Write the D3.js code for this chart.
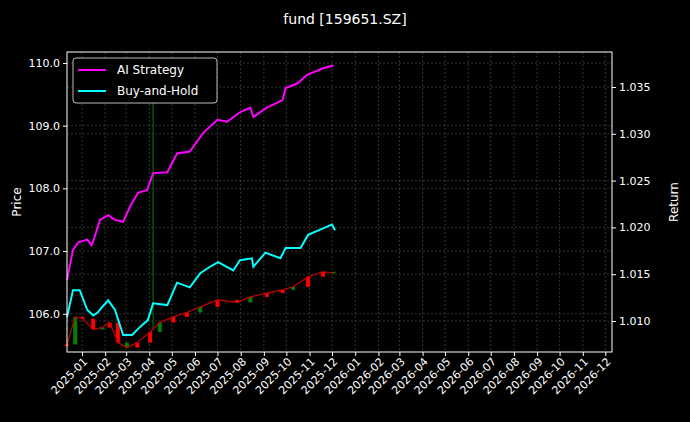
<!DOCTYPE html>
<html><head><meta charset="utf-8">
<script src="https://cdn.jsdelivr.net/npm/d3@7"></script>
<style>
body{margin:0;background:#000;}
text{font-family:"DejaVu Sans",sans-serif;fill:#fff;}
</style></head><body>
<svg id="chart" width="690" height="422"></svg>
<script>
// AI Strategy return (right axis)
const aiDates = ['2024-12-12','2024-12-20','2024-12-27','2025-01-08','2025-01-14','2025-01-18','2025-01-25','2025-02-05','2025-02-14','2025-02-25','2025-03-06','2025-03-17','2025-03-29','2025-04-06','2025-04-25','2025-05-08','2025-05-25','2025-06-12','2025-07-01','2025-07-14','2025-07-31','2025-08-14','2025-08-18','2025-09-05','2025-09-26','2025-09-30','2025-10-16','2025-10-29','2025-11-19','2025-12-03'];
const aiValues = [1.0144,1.0176,1.0184,1.0187,1.0181,1.0190,1.0208,1.0213,1.0208,1.0206,1.0222,1.0237,1.0240,1.0258,1.0259,1.0279,1.0281,1.0301,1.0315,1.0313,1.0323,1.0328,1.0318,1.0328,1.0336,1.0349,1.0354,1.0363,1.0370,1.0373];
// Buy-and-Hold return (right axis)
const bhDates = ['2024-12-12','2024-12-20','2024-12-29','2025-01-08','2025-01-16','2025-01-22','2025-01-28','2025-02-05','2025-02-14','2025-02-25','2025-03-09','2025-03-20','2025-03-30','2025-04-06','2025-04-25','2025-05-08','2025-05-25','2025-06-08','2025-06-21','2025-07-02','2025-07-22','2025-07-31','2025-08-16','2025-08-18','2025-09-03','2025-09-23','2025-09-30','2025-10-20','2025-10-30','2025-11-19','2025-12-01','2025-12-05'];
const bhValues = [1.0104,1.0133,1.0133,1.0112,1.0106,1.0109,1.0115,1.0122,1.0112,1.0085,1.0085,1.0094,1.0101,1.0119,1.0117,1.0141,1.0136,1.0151,1.0158,1.0163,1.0154,1.0165,1.0167,1.0158,1.0173,1.0167,1.0178,1.0178,1.0192,1.0199,1.0203,1.0197];
// price closes (left axis)
const priceDates = ['2024-12-12','2024-12-23','2025-01-02','2025-01-16','2025-01-28','2025-02-07','2025-02-18','2025-03-02','2025-03-16','2025-04-02','2025-04-15','2025-05-03','2025-05-21','2025-06-08','2025-07-01','2025-07-27','2025-08-14','2025-09-05','2025-09-26','2025-10-10','2025-10-30','2025-11-19','2025-12-03'];
const priceClose = [105.51,105.95,105.92,105.75,105.78,105.86,105.54,105.46,105.54,105.71,105.86,105.95,106.02,106.11,106.22,106.18,106.27,106.33,106.38,106.43,106.59,106.67,106.65];
const spikeDate = '2025-04-06', spikeHigh = 109.4, spikeLow = 105.75;
const leftTicks = [106,107,108,109,110];
const rightTicks = [1.010,1.015,1.020,1.025,1.030,1.035];

const svg = d3.select('#chart');
const m = {top: 52, right: 78, bottom: 70, left: 67};
const W = 690 - m.left - m.right, H = 422 - m.top - m.bottom;
const p = d3.timeParse('%Y-%m-%d');
const x = d3.scaleTime().domain([p('2024-12-12'), p('2026-12-10')]).range([0, W]);
const yL = d3.scaleLinear().domain([105.39, 110.175]).range([H, 0]);
const yR = d3.scaleLinear().domain([1.00669, 1.03874]).range([H, 0]);

svg.append('text').attr('x', 345).attr('y', 24).attr('text-anchor', 'middle').style('font-size', '14px').text('fund [159651.SZ]');
const g = svg.append('g').attr('transform', `translate(${m.left},${m.top})`);

const months = d3.timeMonth.range(p('2025-01-01'), p('2026-12-02'));
const grid = g.append('g').attr('stroke', '#666').attr('stroke-width', 0.5).attr('stroke-dasharray', '2,2');
grid.selectAll('.vx').data(months).join('line').attr('x1', d => x(d)).attr('x2', d => x(d)).attr('y1', 0).attr('y2', H);
grid.selectAll('.hl').data(leftTicks).join('line').attr('x1', 0).attr('x2', W).attr('y1', d => yL(d)).attr('y2', d => yL(d));
grid.selectAll('.hr').data(rightTicks).join('line').attr('x1', 0).attr('x2', W).attr('y1', d => yR(d)).attr('y2', d => yR(d));

// candles
const candles = priceClose.map((c, i) => ({d: p(priceDates[i]), o: i ? priceClose[i - 1] : c, c}));
g.append('line').attr('x1', x(p(spikeDate))).attr('x2', x(p(spikeDate)))
  .attr('y1', yL(spikeHigh)).attr('y2', yL(spikeLow)).attr('stroke', 'green').attr('stroke-width', 1);
g.selectAll('.cd').data(candles).join('rect')
  .attr('x', d => x(d.d) - 2).attr('width', 4)
  .attr('y', d => yL(Math.max(d.o, d.c)))
  .attr('height', d => Math.max(1.5, Math.abs(yL(d.o) - yL(d.c))))
  .attr('fill', (d, i) => i % 3 === 1 ? 'green' : 'red');
g.append('path').datum(candles).attr('fill', 'none').attr('stroke', '#c00').attr('stroke-width', 1.2)
  .attr('d', d3.line().x(d => x(d.d)).y(d => yL(d.c)));

const line = d3.line().x(d => x(d[0])).y(d => yR(d[1]));
g.append('path').datum(aiDates.map((d, i) => [p(d), aiValues[i]])).attr('fill', 'none')
  .attr('stroke', '#ff00ff').attr('stroke-width', 2).attr('d', line);
g.append('path').datum(bhDates.map((d, i) => [p(d), bhValues[i]])).attr('fill', 'none')
  .attr('stroke', '#00ffff').attr('stroke-width', 2).attr('d', line);

// axes
const ax = g.append('g').attr('transform', `translate(0,${H})`)
  .call(d3.axisBottom(x).tickValues(months).tickFormat(d3.timeFormat('%Y-%m')).tickSize(4));
ax.selectAll('text').attr('transform', 'rotate(-45)').attr('text-anchor', 'end').attr('dx', '-0.3em').attr('dy', '0.4em').style('font-size', '11px');
g.append('g').call(d3.axisLeft(yL).tickValues(leftTicks).tickSize(4)).selectAll('text').style('font-size', '11px');
g.append('g').attr('transform', `translate(${W},0)`)
  .call(d3.axisRight(yR).tickValues(rightTicks).tickFormat(d3.format('.3f')).tickSize(4)).selectAll('text').style('font-size', '11px');
g.selectAll('.domain').remove();
g.selectAll('.tick line').attr('stroke', '#fff');
g.append('rect').attr('width', W).attr('height', H).attr('fill', 'none').attr('stroke', '#fff').attr('stroke-width', 1);

svg.append('text').attr('transform', 'translate(21,202) rotate(-90)').attr('text-anchor', 'middle').style('font-size', '12px').text('Price');
svg.append('text').attr('transform', 'translate(678,202) rotate(-90)').attr('text-anchor', 'middle').style('font-size', '12px').text('Return');

// legend
const lg = g.append('g').attr('transform', 'translate(6,6)');
lg.append('rect').attr('width', 144).attr('height', 45).attr('rx', 3).attr('fill', '#000').attr('stroke', '#bbb');
[['AI Strategy', '#ff00ff'], ['Buy-and-Hold', '#00ffff']].forEach(([t, c], i) => {
  lg.append('line').attr('x1', 5).attr('x2', 33).attr('y1', 12 + i * 21).attr('y2', 12 + i * 21).attr('stroke', c).attr('stroke-width', 2);
  lg.append('text').attr('x', 44).attr('y', 16 + i * 21).style('font-size', '12px').text(t);
});
</script></body></html>
